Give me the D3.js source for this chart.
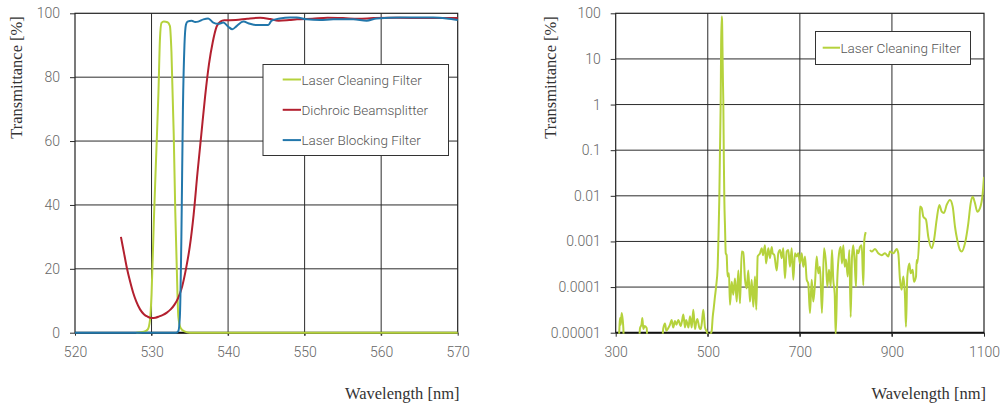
<!DOCTYPE html>
<html><head><meta charset="utf-8">
<script src="https://cdn.jsdelivr.net/npm/d3@7"></script>
<style>
html,body{margin:0;padding:0;background:#fff;}
svg{display:block;}
.tick text{font-family:Roboto,"Liberation Sans",sans-serif;font-weight:300;font-size:14px;fill:#666;}
.ttl{font-family:"Liberation Serif","DejaVu Serif",serif;font-size:16.5px;fill:#333;}
.leg{font-family:Roboto,"Liberation Sans",sans-serif;font-weight:300;font-size:13.5px;fill:#555;}
</style>
</head><body>
<svg id="c" width="1000" height="407"></svg>
<script>
// ---------- Left chart data ----------
const leftXTicks = [520, 530, 540, 550, 560, 570];
const leftYTicks = [0, 20, 40, 60, 80, 100];
const seriesNames = ["Laser Cleaning Filter", "Dichroic Beamsplitter", "Laser Blocking Filter"];
const seriesColors = ["#b5d23c", "#b3202f", "#2277ab"];

const cleaningWl = [528, 529, 529.5, 529.8, 530, 530.3, 530.6, 530.9, 531.1, 531.3, 531.6, 532.1, 532.4, 532.6, 532.9, 533.1, 533.3, 533.5, 533.8, 534.3, 535, 570];
const cleaningT  = [0, 0.3, 1, 4, 12, 35, 55, 75, 92, 97, 97.4, 97.2, 96, 88, 62, 38, 20, 5, 1.5, 0.4, 0, 0];

const dichroicWl = [526, 526.4, 526.8, 527.2, 527.6, 528, 528.5, 529, 529.5, 530, 530.5, 531, 531.5, 532, 532.5, 533, 533.5, 534, 534.5, 535, 535.5, 536, 536.5, 537, 537.5, 538, 538.5, 539, 539.5, 541, 542.5, 544.2, 545.5, 546.6, 548, 549, 551, 553, 555, 557, 559, 562, 566, 570];
const dichroicT  = [30, 25, 20, 16, 12.5, 9.8, 7.3, 5.8, 5.0, 4.6, 4.7, 5.1, 5.6, 6.3, 7.3, 8.8, 11, 14.5, 20, 27, 37, 50, 62, 74, 84, 91, 95.8, 97.4, 97.8, 97.9, 98.3, 98.6, 98.2, 97.7, 97.9, 98.1, 98.3, 98.6, 98.5, 98.3, 98.5, 98.6, 98.5, 98.5];

const blockingWl = [520, 533.2, 533.5, 533.7, 533.9, 534.1, 534.3, 534.5, 534.7, 535.24, 535.7, 536.1, 536.77, 537.4, 538.07, 538.72, 539.38, 540.03, 540.56, 541.12, 541.99, 542.86, 543.73, 544.6, 545.25, 545.69, 546.78, 548.09, 548.96, 550.27, 552, 553.75, 556.36, 558.1, 559.4, 562.46, 566.8, 568.56, 570];
const blockingT  = [0, 0, 0.5, 5, 30, 70, 90, 96.5, 97.4, 97.7, 97.3, 97.4, 98.1, 98.4, 97.1, 96.7, 97.1, 95.8, 95.0, 96.0, 97.4, 96.7, 96.3, 96.3, 96.3, 97.7, 98.4, 98.7, 98.7, 98.1, 97.9, 98.1, 98.1, 97.7, 98.4, 98.7, 98.7, 98.4, 97.9];

// ---------- Right chart data ----------
const rightXTicks = [300, 500, 700, 900, 1100];
const rightXLabels = ["300", "500", "700", "900", "1100"];
const rightYTicks = [0.00001, 0.0001, 0.001, 0.01, 0.1, 1, 10, 100];
const rightYLabels = ["0.00001", "0.0001", "0.001", "0.01", "0.1", "1", "10", "100"];

const logWl = [300, 305, 308, 309.3, 311, 313, 316.6, 318, 350, 352.8, 356, 357.9, 360, 363, 367.4, 369, 400, 403.4, 407.1, 410, 414.3, 418, 421.6, 425, 428.8, 432, 436, 441.2, 444, 446.9, 450.5, 453, 455.6, 458, 461.4, 465.1, 468.6, 472.2, 475, 477.3, 481.6, 484.6, 487, 490.3, 494, 497.6, 500, 505, 508.5, 510.7, 513, 515.7, 518, 521.5, 523, 525, 526.5, 528, 529, 530.2, 531, 532, 533, 533.7, 535, 536, 537.5, 539, 541, 543, 546, 548.3, 552, 555.5, 559.1, 562.8, 566.4, 570, 573.7, 577.2, 580.9, 584.6, 588, 591.7, 595.4, 598.9, 602.6, 605.4, 608.4, 613.4, 617.1, 620, 624.3, 626.5, 631.5, 635.1, 638.8, 641, 644.5, 649.7, 653.2, 656.9, 660.6, 664, 667.7, 671.4, 674.9, 678.6, 682.3, 685.8, 689.4, 693.1, 696.6, 700.3, 704, 707.5, 711.2, 714.9, 718.3, 722, 725.7, 729.2, 732.9, 736.6, 740.1, 743.8, 748, 752.5, 756.8, 759.7, 763.3, 767, 769.8, 772.6, 775.7, 777.8, 781.3, 785.7, 788.7, 791.5, 794.4, 797.4, 800.3, 804, 807.5, 810.4, 813.3, 816.1, 819.2, 822, 823.5, 827, 830.7, 834.4, 837.9, 840, 843.1, 846, 852.4, 856, 863.2, 870.4, 877.7, 884.9, 892.1, 895.8, 903, 910.3, 913.8, 917.5, 921.1, 924.7, 928.4, 930.5, 933.4, 937.8, 940.7, 945.1, 947.9, 952.3, 953.8, 955.1, 959.5, 961, 964.7, 968.1, 974, 979, 986.4, 991.4, 997.2, 1002.9, 1008.1, 1013.1, 1018.9, 1026.1, 1032, 1037, 1042, 1047.8, 1051.5, 1058.7, 1065.9, 1071.1, 1075.5, 1080.4, 1085.4, 1091.3, 1097.1, 1100];
const logT = [5e-6, 5e-6, 1.2e-5, 2.1e-5, 1.5e-5, 2.7e-5, 1.26e-5, 5e-6, 5e-6, 1.26e-5, 1.5e-5, 2.1e-5, 1.2e-5, 1.4e-5, 1.26e-5, 5e-6, 5e-6, 1.26e-5, 1.6e-5, 1.1e-5, 1.26e-5, 1.5e-5, 1.9e-5, 1.3e-5, 1.8e-5, 1.5e-5, 1.9e-5, 1.4e-5, 1.8e-5, 2.5e-5, 1.3e-5, 1.9e-5, 1.6e-5, 1.3e-5, 2.3e-5, 1.3e-5, 3.2e-5, 1.2e-5, 1.7e-5, 2.0e-5, 1.3e-5, 1.2e-5, 1.6e-5, 3.2e-5, 1.3e-5, 1.07e-5, 9e-6, 9e-6, 1.1e-5, 2.2e-5, 3.5e-5, 6.3e-5, 1.0e-4, 2.8e-4, 1e-3, 8e-3, 0.1, 1, 20, 85, 70, 16, 3, 1.26, 0.05, 8e-3, 2e-3, 5.5e-4, 5e-4, 1.7e-4, 2e-4, 4.1e-5, 1.3e-4, 6.8e-5, 1.55e-4, 4.8e-5, 2.3e-4, 4.4e-5, 6e-4, 5.8e-4, 1.45e-4, 9.3e-5, 2.3e-4, 4.8e-5, 1.45e-4, 3.7e-5, 1.7e-4, 3.2e-5, 4.7e-4, 5.5e-4, 7.1e-4, 5e-4, 8.3e-4, 3.3e-4, 7.1e-4, 4.3e-4, 7.6e-4, 5.5e-4, 5e-4, 2.3e-4, 5.5e-4, 6.5e-4, 4.3e-4, 7.1e-4, 1.55e-4, 6e-4, 6.5e-4, 2.8e-4, 7.1e-4, 1.45e-4, 5.5e-4, 4.7e-4, 5.5e-4, 3.3e-4, 5.5e-4, 2.8e-4, 4.7e-4, 1.45e-4, 1.2e-4, 2.7e-5, 1.45e-4, 4.8e-5, 1.2e-4, 4.7e-4, 2e-4, 2.8e-4, 2.7e-5, 7.1e-4, 3.3e-4, 1.02e-4, 2.4e-4, 1.02e-4, 6.5e-4, 1.45e-4, 7.2e-5, 9e-6, 1.45e-4, 6e-4, 7.6e-4, 3.3e-4, 8.3e-4, 2.8e-4, 4e-4, 1.7e-4, 6.5e-4, 2.2e-5, 4.7e-4, 8.3e-4, 3.3e-4, 1.02e-4, 6.5e-4, 5.5e-4, 7.6e-4, 8.3e-4, 1.1e-4, 1.07e-3, 1.6e-3, null, 6.5e-4, 6e-4, 6.8e-4, 5.5e-4, 5e-4, 5.5e-4, 4.7e-4, 6e-4, 5.5e-4, 6.8e-4, 5.5e-4, 1.45e-4, 8.7e-5, 1.7e-4, 6.2e-5, 1.35e-5, 1.7e-4, 3.3e-4, 2e-4, 2.4e-4, 1.3e-4, 1.7e-4, 3.9e-4, 3.3e-4, 1.5e-3, 5.8e-3, 5.4e-3, 3.5e-3, 3e-3, 1.26e-3, 7.1e-4, 1.07e-3, 3e-3, 6.3e-3, 4.5e-3, 4.2e-3, 6.3e-3, 8.1e-3, 5.8e-3, 2.1e-3, 1.07e-3, 6.5e-4, 6e-4, 9.1e-4, 2.5e-3, 6.9e-3, 9.5e-3, 6.9e-3, 4.5e-3, 5.4e-3, 1.1e-2, 2.6e-2];

// ---------- Drawing ----------
const svg = d3.select("#c");
const gridColor = "#2b2b2b";

function frame(g, x0, x1, y0, y1) {
  g.append("rect").attr("x", x0).attr("y", y1).attr("width", x1 - x0).attr("height", y0 - y1)
    .attr("fill", "none").attr("stroke", "#222").attr("stroke-width", 1.2);
  g.append("line").attr("x1", x0).attr("x2", x1).attr("y1", y0).attr("y2", y0)
    .attr("stroke", "#111").attr("stroke-width", 2);
}

function styleAxis(a) {
  a.select(".domain").remove();
  a.selectAll(".tick line").attr("stroke", gridColor);
}

// Left chart
{
  const x = d3.scaleLinear([520, 570], [75, 457.7]);
  const y = d3.scaleLinear([0, 100], [332.7, 13.3]);
  const g = svg.append("g");
  g.append("g").selectAll("line").data(leftXTicks.slice(1, -1)).join("line")
    .attr("x1", d => x(d)).attr("x2", d => x(d)).attr("y1", y(100)).attr("y2", y(0) + 3)
    .attr("stroke", gridColor).attr("stroke-width", 1);
  g.append("g").selectAll("line").data(leftYTicks.slice(1, -1)).join("line")
    .attr("x1", x(520)).attr("x2", x(570)).attr("y1", d => y(d)).attr("y2", d => y(d))
    .attr("stroke", gridColor).attr("stroke-width", 1);
  frame(g, x(520), x(570), y(0), y(100));
  const ay = g.append("g").attr("transform", `translate(${x(520)},0)`)
    .call(d3.axisLeft(y).tickValues(leftYTicks).tickSize(5).tickPadding(10));
  styleAxis(ay);
  const ax = g.append("g").attr("transform", `translate(0,${y(0)})`)
    .call(d3.axisBottom(x).tickValues(leftXTicks).tickSize(3).tickPadding(11));
  styleAxis(ax);

  const series = [[cleaningWl, cleaningT], [dichroicWl, dichroicT], [blockingWl, blockingT]];
  const line = d3.line().x(d => x(d[0])).y(d => y(d[1])).curve(d3.curveMonotoneX);
  series.forEach((s, i) => {
    const pts = s[0].map((w, k) => [w, s[1][k]]);
    g.append("path").attr("d", line(pts)).attr("fill", "none")
      .attr("stroke", seriesColors[i]).attr("stroke-width", 2);
  });

  const lg = g.append("g");
  lg.append("rect").attr("x", 263).attr("y", 64.5).attr("width", 185.5).attr("height", 91)
    .attr("fill", "#fff").attr("stroke", "#333").attr("stroke-width", 1);
  seriesNames.forEach((n, i) => {
    const yy = 79.5 + i * 30.3;
    lg.append("line").attr("x1", 282.7).attr("x2", 301).attr("y1", yy).attr("y2", yy)
      .attr("stroke", seriesColors[i]).attr("stroke-width", 2);
    lg.append("text").attr("class", "leg").attr("x", 301.5).attr("y", yy)
      .attr("dominant-baseline", "central").text(n);
  });

  g.append("text").attr("class", "ttl").attr("transform", `translate(22,${(13 + 142) / 2}) rotate(-90)`)
    .attr("text-anchor", "middle").text("Transmittance [%]");
  g.append("text").attr("class", "ttl").attr("x", 459.5).attr("y", 399)
    .attr("text-anchor", "end").text("Wavelength [nm]");
}

// Right chart
{
  const x = d3.scaleLinear([300, 1100], [615.7, 984]);
  const y = d3.scaleLog([1e-5, 100], [332.7, 13.3]);
  const g = svg.append("g");
  g.append("g").selectAll("line").data(rightXTicks.slice(1, -1)).join("line")
    .attr("x1", d => x(d)).attr("x2", d => x(d)).attr("y1", y(100)).attr("y2", y(1e-5) + 4)
    .attr("stroke", gridColor).attr("stroke-width", 1);
  g.append("g").selectAll("line").data(rightYTicks.slice(1, -1)).join("line")
    .attr("x1", x(300)).attr("x2", x(1100)).attr("y1", d => y(d)).attr("y2", d => y(d))
    .attr("stroke", gridColor).attr("stroke-width", 1);
  frame(g, x(300), x(1100), y(1e-5), y(100));
  const ay = g.append("g").attr("transform", `translate(${x(300)},0)`)
    .call(d3.axisLeft(y).tickValues(rightYTicks).tickFormat((d, i) => rightYLabels[i]).tickSize(5).tickPadding(10));
  styleAxis(ay);
  const ax = g.append("g").attr("transform", `translate(0,${y(1e-5)})`)
    .call(d3.axisBottom(x).tickValues(rightXTicks).tickFormat((d, i) => rightXLabels[i]).tickSize(4).tickPadding(10));
  styleAxis(ax);

  svg.append("defs").append("clipPath").attr("id", "rc")
    .append("rect").attr("x", x(300)).attr("y", y(100) - 2).attr("width", x(1100) - x(300)).attr("height", y(1e-5) - y(100) + 3);
  const pts = logWl.map((w, k) => [w, logT[k]]);
  const line = d3.line().defined(d => d[1] != null).x(d => x(d[0])).y(d => y(d[1])).curve(d3.curveMonotoneX);
  g.append("path").attr("clip-path", "url(#rc)").attr("d", line(pts)).attr("fill", "none")
    .attr("stroke", seriesColors[0]).attr("stroke-width", 2).attr("stroke-linejoin", "round");

  const lg = g.append("g");
  lg.append("rect").attr("x", 815.5).attr("y", 31.5).attr("width", 155).attr("height", 33)
    .attr("fill", "#fff").attr("stroke", "#333").attr("stroke-width", 1);
  lg.append("line").attr("x1", 822.7).attr("x2", 840).attr("y1", 47.7).attr("y2", 47.7)
    .attr("stroke", seriesColors[0]).attr("stroke-width", 2);
  lg.append("text").attr("class", "leg").attr("x", 840.5).attr("y", 47.7)
    .attr("dominant-baseline", "central").text(seriesNames[0]);

  g.append("text").attr("class", "ttl").attr("transform", `translate(556,${(13 + 142) / 2}) rotate(-90)`)
    .attr("text-anchor", "middle").text("Transmittance [%]");
  g.append("text").attr("class", "ttl").attr("x", 986).attr("y", 399)
    .attr("text-anchor", "end").text("Wavelength [nm]");
}
</script>
</body></html>
